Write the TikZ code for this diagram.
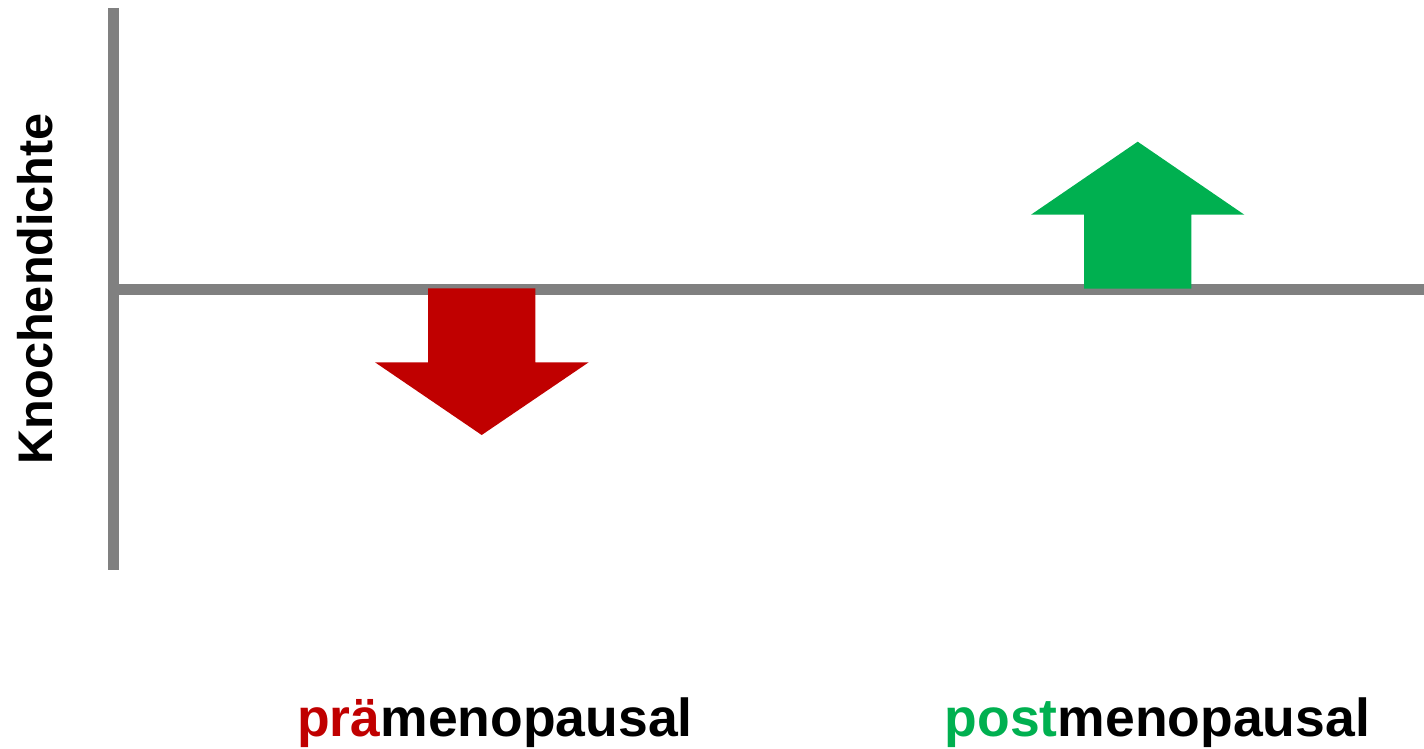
\documentclass[tikz,border=0pt]{standalone}
\usepackage{fontspec}
\setmainfont{Liberation Sans}
\definecolor{axisgray}{RGB}{128,128,128}
\definecolor{downred}{RGB}{192,0,0}
\definecolor{upgreen}{RGB}{0,176,80}
\begin{document}
\begin{tikzpicture}[x=1pt,y=-1pt,
  axis/.style={draw=axisgray,line width=11pt},
  bigarrow/.style={draw=none},
  lbl/.style={inner sep=0pt,font=\bfseries\fontsize{53.5}{60}\selectfont},
  ylbl/.style={inner sep=0pt,font=\bfseries\fontsize{48.6}{55}\selectfont}]
\useasboundingbox (0,0) rectangle (1424,749);
% axes
\coordinate (ytop) at (113.8,8);
\coordinate (ybot) at (113.8,570);
\coordinate (xleft) at (108.3,289);
\coordinate (xright) at (1424,289);
\draw[axis] (ytop) -- (ybot);
\draw[axis] (xleft) -- (xright);
% red down arrow
\fill[downred,bigarrow] (428,288.3) -- (535.3,288.3) -- (535.3,362.3) -- (588.7,362.3)
  -- (481.7,435) -- (375,362.3) -- (428,362.3) -- cycle;
% green up arrow
\fill[upgreen,bigarrow] (1084,288.7) -- (1191.3,288.7) -- (1191.3,214.7) -- (1244.3,214.7)
  -- (1137.7,141.7) -- (1031,214.7) -- (1084,214.7) -- cycle;
% labels
\node[ylbl,rotate=90,anchor=base] (ylabel) at (52.7,288.7) {Knochendichte};
\node[lbl,anchor=base west] (pre) at (297,736) {\textcolor{downred}{prä}menopausal};
\node[lbl,anchor=base west] (post) at (944.6,736) {\textcolor{upgreen}{post}menopausal};
\end{tikzpicture}
\end{document}
